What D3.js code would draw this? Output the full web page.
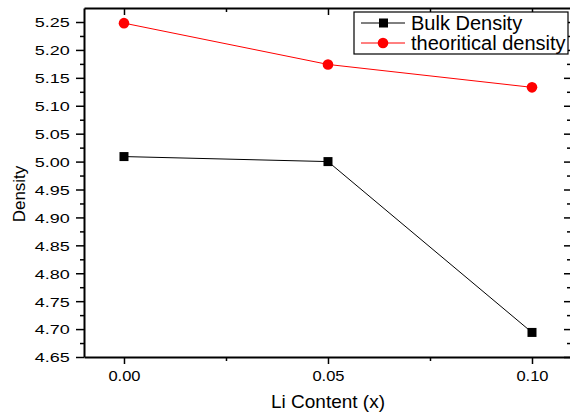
<!DOCTYPE html>
<html>
<head>
<meta charset="utf-8">
<script src="https://cdn.jsdelivr.net/npm/d3@7"></script>
<style>
  body { margin: 0; background: #fff; }
  svg { display: block; font-family: "Liberation Sans", Arial, sans-serif; }
</style>
</head>
<body>
<div id="chart"></div>
<script>
// Data
const liContent = [0.00, 0.05, 0.10];
const bulkDensity = [5.009, 5.000, 4.694];
const theoriticalDensity = [5.248, 5.174, 5.133];
const xTicks = [0.00, 0.05, 0.10];
const xMinorTicks = [0.025, 0.075];
const yTicks = [4.65, 4.70, 4.75, 4.80, 4.85, 4.90, 4.95, 5.00, 5.05, 5.10, 5.15, 5.20, 5.25];
const yMinorTicks = [4.675, 4.725, 4.775, 4.825, 4.875, 4.925, 4.975, 5.025, 5.075, 5.125, 5.175, 5.225];
const seriesNames = ["Bulk Density", "theoritical density"];

const width = 570;
const height = 416;
const margin = { top: 8, right: -1, bottom: 59, left: 84 };
const innerW = width - margin.left - margin.right;
const innerH = height - margin.top - margin.bottom;

const svg = d3
  .select("#chart")
  .append("svg")
  .attr("width", width)
  .attr("height", height);

const g = svg.append("g").attr("transform", `translate(${margin.left}, ${margin.top})`);

// Scales
const xScale = d3.scaleLinear().domain([-0.0098, 0.10956]).range([0, innerW]);
const yScale = d3.scaleLinear().domain([4.65, 5.2751]).range([innerH, 0]);

const fmt = d3.format(".2f");

// Minor ticks (drawn first)
function minor(axis, scale, ticks, size, transform) {
  g.append("g")
    .attr("transform", transform)
    .call(axis(scale).tickValues(ticks).tickSize(size).tickSizeOuter(0).tickFormat(""))
    .call((s) => s.select(".domain").remove())
    .call((s) => s.selectAll("line").attr("stroke", "#000").attr("stroke-width", 1.5));
}
minor(d3.axisBottom, xScale, xMinorTicks, 4, `translate(0, ${innerH})`);
minor(d3.axisTop, xScale, xMinorTicks, -4, "translate(0, 0)");
minor(d3.axisLeft, yScale, yMinorTicks, 4, "translate(0, 0)");
minor(d3.axisRight, yScale, yMinorTicks, -4, `translate(${innerW}, 0)`);

// Major axes
const xAxis = g
  .append("g")
  .attr("transform", `translate(0, ${innerH})`)
  .call(d3.axisBottom(xScale).tickValues(xTicks).tickSize(7).tickSizeOuter(0).tickPadding(6).tickFormat(fmt));

const yAxis = g
  .append("g")
  .call(d3.axisLeft(yScale).tickValues(yTicks).tickSize(8).tickSizeOuter(0).tickPadding(3).tickFormat(fmt));

g.append("g").call(d3.axisTop(xScale).tickValues(xTicks).tickSize(-7).tickSizeOuter(0).tickFormat(""));
g.append("g")
  .attr("transform", `translate(${innerW}, 0)`)
  .call(d3.axisRight(yScale).tickValues(yTicks).tickSize(-7).tickSizeOuter(0).tickFormat(""));

g.selectAll(".domain").attr("stroke", "#000").attr("stroke-width", 2);
g.selectAll(".tick line").attr("stroke", "#000").attr("stroke-width", 1.5);
g.selectAll(".tick text").attr("fill", "#000").style("font-size", "15px");
xAxis.selectAll(".tick text").attr("transform", "scale(1.1,1)");
yAxis.selectAll(".tick text").attr("transform", "translate(-1,0) scale(1.2,0.9)").attr("dy", "0.36em");

// Axis labels
svg
  .append("text")
  .attr("x", margin.left + xScale(0.05))
  .attr("y", 408)
  .attr("text-anchor", "middle")
  .style("font-size", "19px")
  .text("Li Content (x)");

svg
  .append("text")
  .attr("transform", `translate(25, 194) rotate(-90)`)
  .attr("text-anchor", "middle")
  .style("font-size", "17px")
  .text("Density");

// Lines and markers
const line = d3
  .line()
  .x((d) => xScale(d[0]))
  .y((d) => yScale(d[1]));

const bulkPts = liContent.map((x, i) => [x, bulkDensity[i]]);
const theoPts = liContent.map((x, i) => [x, theoriticalDensity[i]]);

g.append("path").datum(bulkPts).attr("d", line).attr("fill", "none").attr("stroke", "#000").attr("stroke-width", 1);
g.append("path").datum(theoPts).attr("d", line).attr("fill", "none").attr("stroke", "#ff0000").attr("stroke-width", 1);

g.selectAll(".bulk")
  .data(bulkPts)
  .join("rect")
  .attr("x", (d) => xScale(d[0]) - 4.5)
  .attr("y", (d) => yScale(d[1]) - 4.5)
  .attr("width", 9)
  .attr("height", 9)
  .attr("fill", "#000");

g.selectAll(".theo")
  .data(theoPts)
  .join("circle")
  .attr("cx", (d) => xScale(d[0]))
  .attr("cy", (d) => yScale(d[1]))
  .attr("r", 5.3)
  .attr("fill", "#ff0000");

// Legend
const legend = svg.append("g").attr("transform", "translate(354, 12)");
legend.append("rect").attr("width", 214).attr("height", 42).attr("fill", "#fff").attr("stroke", "#000").attr("stroke-width", 1.2);

const legendColors = ["#000", "#ff0000"];
seriesNames.forEach((name, i) => {
  const y = 11 + i * 20;
  legend.append("line").attr("x1", 7).attr("x2", 51).attr("y1", y).attr("y2", y).attr("stroke", legendColors[i]).attr("stroke-width", 1);
  if (i === 0) {
    legend.append("rect").attr("x", 25).attr("y", y - 4.5).attr("width", 9).attr("height", 9).attr("fill", "#000");
  } else {
    legend.append("circle").attr("cx", 29).attr("cy", y).attr("r", 5.3).attr("fill", "#ff0000");
  }
  legend
    .append("text")
    .attr("x", 57)
    .attr("y", y + 7)
    .style("font-size", "20px")
    .attr("fill", "#000")
    .text(name);
});
</script>
</body>
</html>
